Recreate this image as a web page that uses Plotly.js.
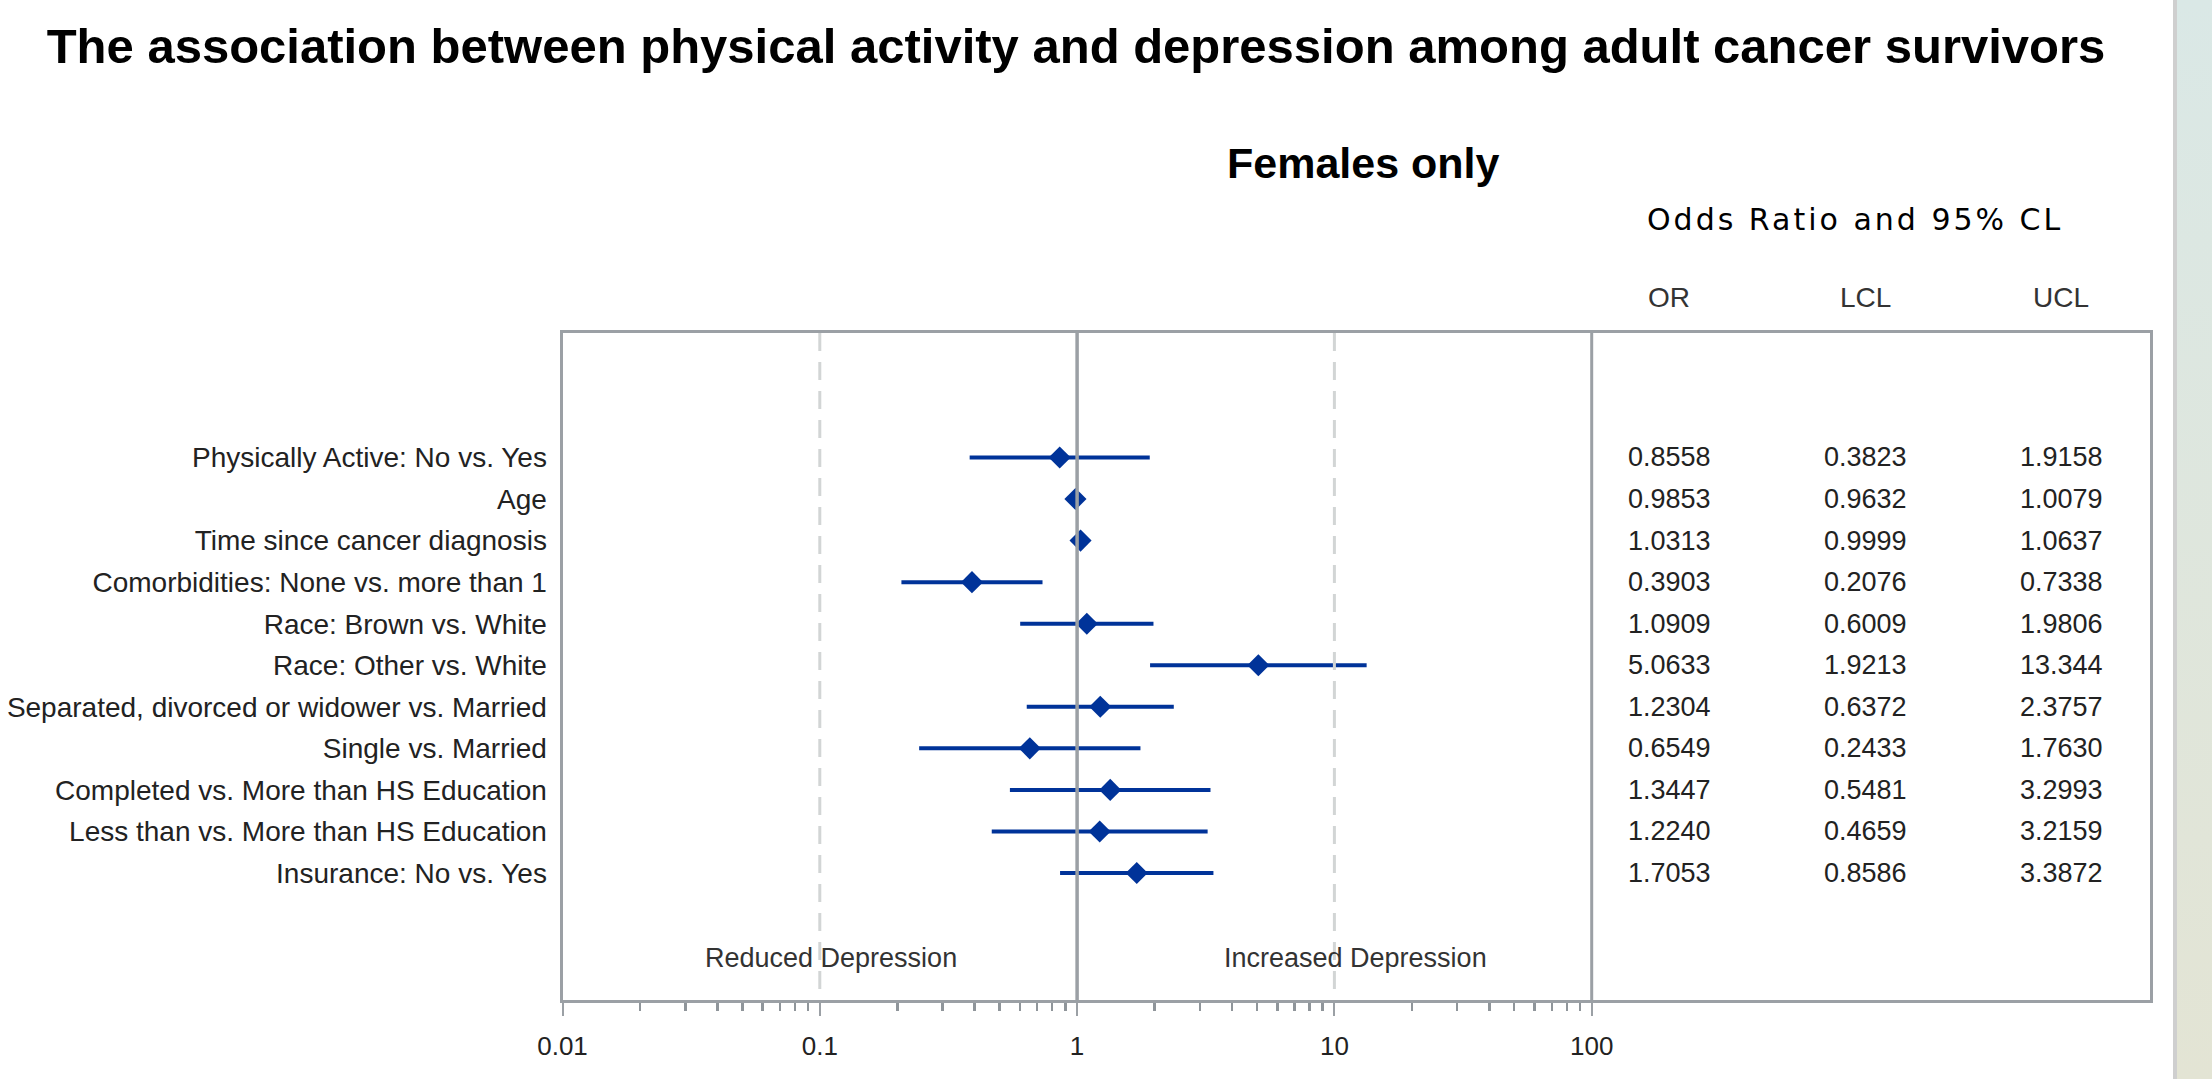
<!DOCTYPE html>
<html>
<head>
<meta charset="utf-8">
<script src="https://cdn.plot.ly/plotly-3.0.1.min.js"></script>
<style>
  html, body { margin:0; padding:0; width:2212px; height:1079px; overflow:hidden; background:#fff; }
  #strip { position:absolute; left:2173px; top:0; width:4px; height:1079px; background:#cfcfcf; }
  #panel { position:absolute; left:2177px; top:0; width:35px; height:1079px;
           background:linear-gradient(to bottom, #dae8e6, #e3e4d4); }
  #chart { position:absolute; left:0; top:0; width:2212px; height:1079px; }
</style>
</head>
<body>
<div id="strip"></div>
<div id="panel"></div>
<div id="chart"></div>
<script>
// ---- data ----
const effects = [
  "Physically Active: No vs. Yes",
  "Age",
  "Time since cancer diagnosis",
  "Comorbidities: None vs. more than 1",
  "Race: Brown vs. White",
  "Race: Other vs. White",
  "Separated, divorced or widower vs. Married",
  "Single vs. Married",
  "Completed vs. More than HS Education",
  "Less than vs. More than HS Education",
  "Insurance: No vs. Yes"
];
const oddsRatio = [0.8558, 0.9853, 1.0313, 0.3903, 1.0909, 5.0633, 1.2304, 0.6549, 1.3447, 1.2240, 1.7053];
const lowerCL   = [0.3823, 0.9632, 0.9999, 0.2076, 0.6009, 1.9213, 0.6372, 0.2433, 0.5481, 0.4659, 0.8586];
const upperCL   = [1.9158, 1.0079, 1.0637, 0.7338, 1.9806, 13.344, 2.3757, 1.7630, 3.2993, 3.2159, 3.3872];
const xTickVals = [0.01, 0.1, 1, 10, 100];
const xTickText = ["0.01", "0.1", "1", "10", "100"];
const tableHeaders = ["OR", "LCL", "UCL"];

// ---- layout helpers (pixel -> paper) ----
const W = 2212, H = 1079;
const px = x => x / W;
const py = y => 1 - y / H;

const frameL = 562.5, frameR = 2149.5, frameT = 333, frameB = 1000;
const decade = 257.3;
const xRange = [-2, -2 + (frameR - frameL) / decade];
const rowTop = 457.5, rowStep = 41.55;
const yTopVal = -(rowTop - frameT) / rowStep;
const yBotVal = yTopVal + (frameB - frameT) / rowStep;

const idx = effects.map((_, i) => i);
const navy = '#003399';
const frameGrey = '#9ba0a5';
const dashGrey = '#d2d5d5';
const FONT = 'Liberation Sans, Arial, sans-serif';

const fmt = v => v.toFixed(4 - Math.max(0, Math.floor(Math.log10(v))));

const minorVals = [];
for (let e = -2; e < 2; e++) for (let m = 2; m <= 9; m++) minorVals.push(m * Math.pow(10, e));

const traces = [
  {
    type: 'scatter', mode: 'markers',
    x: oddsRatio, y: idx,
    marker: { symbol: 'diamond', size: 17, color: navy },
    error_x: {
      type: 'data', symmetric: false,
      array: upperCL.map((u, i) => u - oddsRatio[i]),
      arrayminus: lowerCL.map((l, i) => oddsRatio[i] - l),
      thickness: 4, width: 0, color: navy
    },
    hoverinfo: 'skip', showlegend: false
  },
  { type:'scatter', mode:'lines', x:[0.1,0.1], y:[yTopVal,yBotVal], line:{color:dashGrey,width:3,dash:'18px,11px'}, hoverinfo:'skip', showlegend:false },
  { type:'scatter', mode:'lines', x:[10,10], y:[yTopVal,yBotVal], line:{color:dashGrey,width:3,dash:'18px,11px'}, hoverinfo:'skip', showlegend:false },
  { type:'scatter', mode:'lines', x:[1,1], y:[yTopVal,yBotVal], line:{color:frameGrey,width:3.5}, hoverinfo:'skip', showlegend:false },
  { type:'scatter', mode:'lines', x:[100,100], y:[yTopVal,yBotVal], line:{color:frameGrey,width:3}, hoverinfo:'skip', showlegend:false }
];

const annotations = [];
const colX = [1669, 1865, 2061];
tableHeaders.forEach((h, c) => {
  annotations.push({ xref:'paper', yref:'paper', x:px(colX[c]), y:py(298), text:h, showarrow:false,
    xanchor:'center', yanchor:'middle', font:{family:FONT, size:28, color:'#333'} });
});
[oddsRatio, lowerCL, upperCL].forEach((arr, c) => {
  arr.forEach((v, i) => {
    annotations.push({ xref:'paper', yref:'y', x:px(colX[c]), y:i, text:fmt(v), showarrow:false,
      xanchor:'center', yanchor:'middle', font:{family:FONT, size:27, color:'#222'} });
  });
});
annotations.push({ xref:'paper', yref:'paper', x:px(1855), y:py(220),
  text:'<span style="letter-spacing:3px">Odds Ratio and 95% CL</span>', showarrow:false,
  xanchor:'center', yanchor:'middle', font:{family:'DejaVu Sans, sans-serif', size:30, color:'#000'} });
annotations.push({ xref:'paper', yref:'paper', x:px(1363), y:py(163), text:'<b>Females only</b>', showarrow:false,
  xanchor:'center', yanchor:'middle', font:{family:FONT, size:43, color:'#000'} });
annotations.push({ xref:'paper', yref:'paper', x:px(831), y:py(958), text:'Reduced Depression', showarrow:false,
  xanchor:'center', yanchor:'middle', font:{family:FONT, size:27, color:'#333'} });
annotations.push({ xref:'paper', yref:'paper', x:px(1355), y:py(958), text:'Increased Depression', showarrow:false,
  xanchor:'center', yanchor:'middle', font:{family:FONT, size:27, color:'#333'} });

const layout = {
  width: W, height: H,
  margin: { l:0, r:0, t:0, b:0 },
  paper_bgcolor: 'rgba(0,0,0,0)',
  plot_bgcolor: '#fff',
  showlegend: false,
  title: { text: '<b>The association between physical activity and depression among adult cancer survivors</b>',
    x: px(1076), xanchor: 'center', xref: 'paper', y: py(46), yanchor: 'middle',
    font: { family: FONT, size: 49, color: '#000' } },
  xaxis: {
    type: 'log', domain: [px(frameL), px(frameR)], range: xRange,
    tickmode: 'array', tickvals: xTickVals, ticktext: xTickText,
    ticks: 'outside', ticklen: 13, tickwidth: 2, tickcolor: frameGrey,
    ticklabelstandoff: 8,
    tickfont: { family: FONT, size: 26, color: '#222' },
    showgrid: false, zeroline: false,
    showline: true, mirror: true, linecolor: frameGrey, linewidth: 3,
    minor: { tickmode: 'array', tickvals: minorVals, ticks: 'outside', ticklen: 8, tickwidth: 2.5, tickcolor: '#8f959a', showgrid: false }
  },
  yaxis: {
    domain: [py(frameB), py(frameT)], range: [yBotVal, yTopVal],
    tickmode: 'array', tickvals: idx, ticktext: effects,
    ticks: '', ticklabelstandoff: 7,
    tickfont: { family: FONT, size: 28, color: '#222' },
    showgrid: false, zeroline: false,
    showline: true, mirror: true, linecolor: frameGrey, linewidth: 3
  },
  annotations: annotations
};

Plotly.newPlot('chart', traces, layout, { staticPlot: true });
</script>
</body>
</html>
